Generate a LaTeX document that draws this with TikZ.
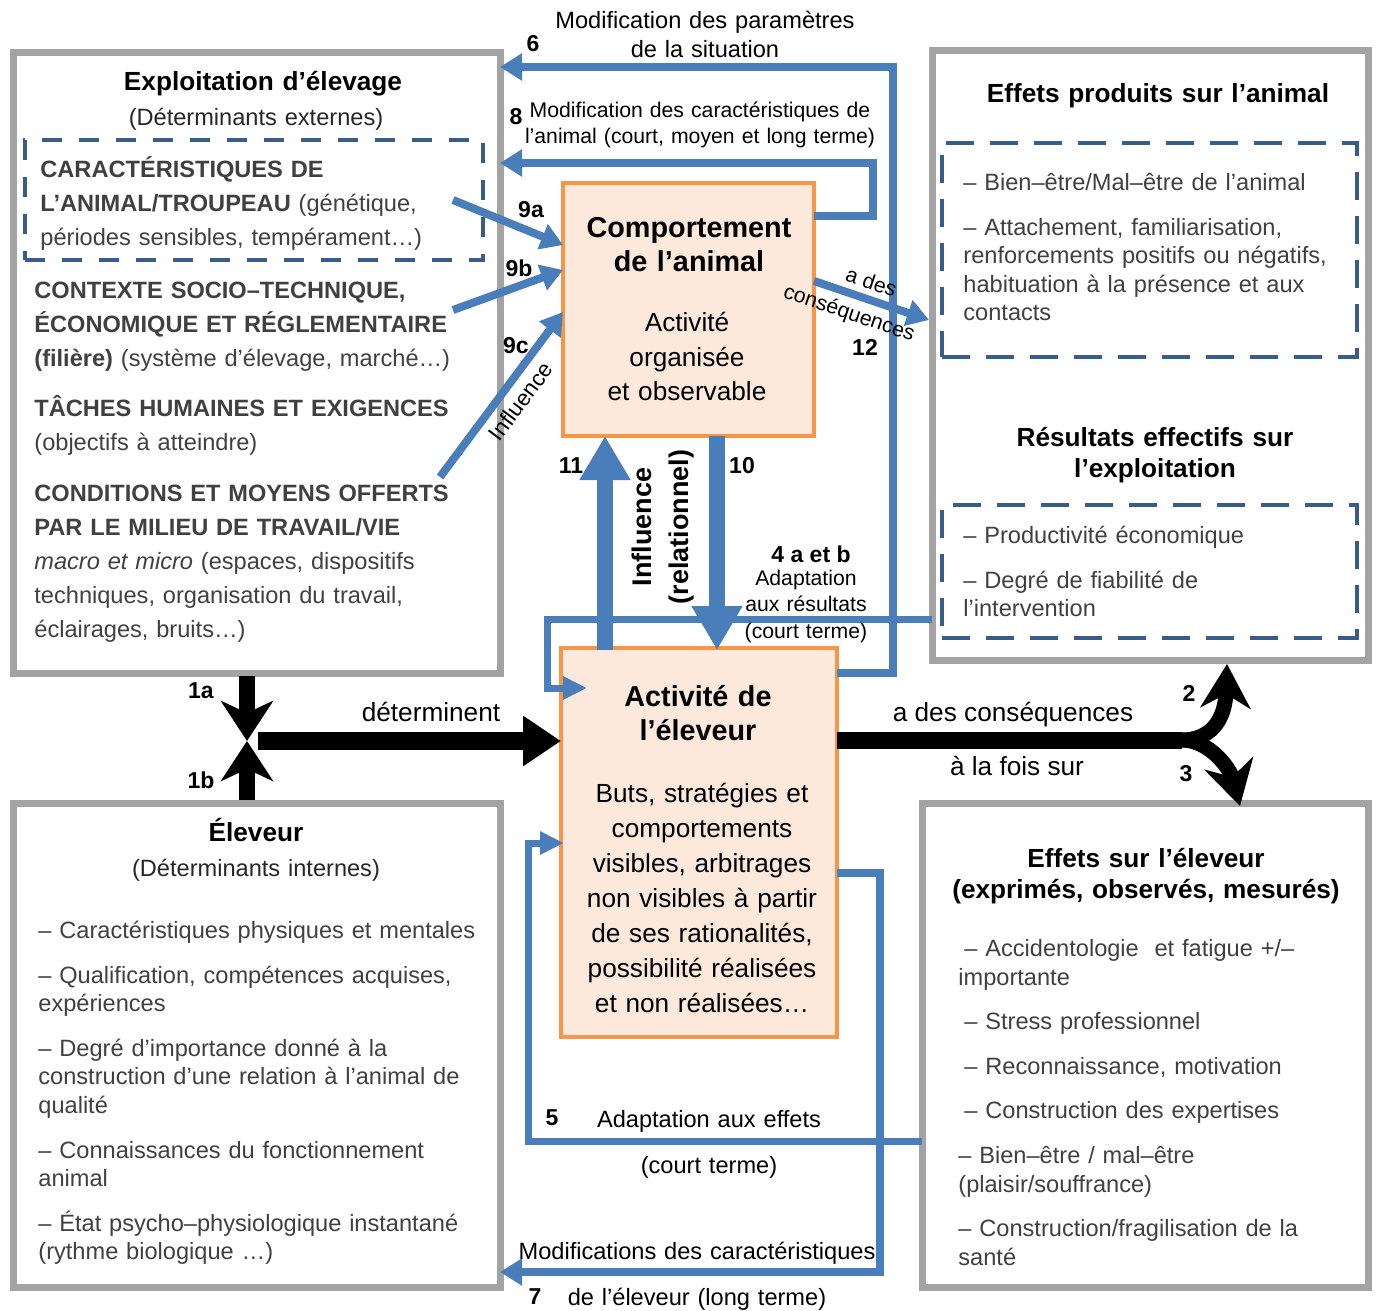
\documentclass[tikz,border=0pt]{standalone}
\usepackage{fontspec}
\setmainfont{Liberation Sans}
\usetikzlibrary{arrows.meta,positioning,calc}
\definecolor{framegray}{RGB}{163,163,163}
\definecolor{dashblue}{RGB}{56,93,138}
\definecolor{linkblue}{RGB}{74,126,187}
\definecolor{boxorange}{RGB}{247,150,70}
\definecolor{boxfill}{RGB}{253,233,219}
\definecolor{textgray}{RGB}{64,64,64}

\begin{document}
\begin{tikzpicture}[x=0.5pt,y=-0.5pt,
    greybox/.style={draw=framegray,line width=3.5pt,anchor=north west,inner sep=0,outer sep=0},
    dashbox/.style={draw=dashblue,line width=2pt,dash pattern=on 10pt off 8.5pt,anchor=north west,inner sep=0,outer sep=0},
    longdash/.style={dashbox,dash pattern=on 14pt off 8pt},
    orbox/.style={draw=boxorange,fill=boxfill,line width=2pt,anchor=north west,inner sep=0,outer sep=0},
    bluelink/.style={draw=linkblue,line width=4pt,-{Triangle[length=11pt,width=13pt]}},
    shortlink/.style={draw=linkblue,line width=3.5pt,-{Triangle[length=12pt,width=11pt]}},
    fatlink/.style={draw=linkblue,line width=8pt,-{Triangle[length=22pt,width=24pt]}},
    blkarrow/.style={draw=black,line width=8pt,-{Stealth[length=22pt,width=25pt,inset=7pt]}},
    body/.style={anchor=base west,inner sep=0,text width=240pt,align=left,text=textgray,font=\fontsize{11.8}{14.3}\selectfont},
    bodyA/.style={body,font=\fontsize{11.8}{17}\selectfont},
    ttl/.style={anchor=base,inner sep=0,text width=230pt,align=center,font=\fontsize{13.1}{15.5}\selectfont\bfseries},
    subttl/.style={anchor=base,inner sep=0,text width=230pt,align=center,text=black!85,font=\fontsize{11.8}{14.3}\selectfont},
    midttl/.style={anchor=base,inner sep=0,text width=150pt,align=center,font=\fontsize{14.4}{17.3}\selectfont\bfseries},
    midtxt/.style={anchor=base,inner sep=0,text width=150pt,align=center,font=\fontsize{13.1}{17.5}\selectfont},
    lbl/.style={anchor=base,inner sep=0,text width=230pt,align=center,font=\fontsize{11.8}{14.5}\selectfont},
    lblsm/.style={anchor=base,inner sep=0,text width=200pt,align=center,font=\fontsize{10.6}{13.2}\selectfont},
    onlink/.style={inner sep=0,font=\fontsize{10.6}{13.2}\selectfont},
    lblbig/.style={anchor=base,inner sep=0,font=\fontsize{13.1}{15}\selectfont},
    numlbl/.style={inner sep=0,font=\fontsize{11.5}{14}\selectfont\bfseries}]
\useasboundingbox (0,0) rectangle (1378,1311);

% boxes
\node[greybox,minimum width=243.5pt,minimum height=310pt] (expl) at (13,53) {};
\node[greybox,minimum width=243.5pt,minimum height=242pt] (elev) at (13,803) {};
\node[greybox,minimum width=218pt,minimum height=304.5pt] (eff) at (932,51) {};
\node[greybox,minimum width=223pt,minimum height=242pt] (effel) at (922,803) {};
\node[dashbox,minimum width=229pt,minimum height=60pt] (carac) at (25,140) {};
\node[longdash,minimum width=207.5pt,minimum height=107pt] (bienetre) at (942,143) {};
\node[longdash,minimum width=207.5pt,minimum height=66.5pt] (prod) at (942,505) {};
\node[orbox,minimum width=125.5pt,minimum height=126.5pt] (comp) at (563,183) {};
\node[orbox,minimum width=138pt,minimum height=194.5pt] (act) at (561,648) {};

% black arrows
\coordinate (j) at (247,741);
\draw[blkarrow,-{Stealth[length=20pt,width=26pt,inset=6pt]}] ($(expl.south west)+(234,3)$) -- (j);
\draw[blkarrow,-{Stealth[length=20pt,width=26pt,inset=6pt]}] ($(elev.north west)+(234,-3)$) -- (j);
\draw[blkarrow,line width=9pt,-{Triangle[length=19pt,width=24pt]}] ($(j)+(11,0)$) -- ($(act.north west)+(0,93)$);
\coordinate (fork) at (1182,740);
\draw[black,line width=8.5pt] ($(act.north west)+(276,92)$) -- (fork);
\draw[blkarrow,line width=7.5pt] (fork) .. controls (1209,740) and (1225,722) .. ($(eff.south west)+(295,4)$);
\draw[blkarrow,line width=7.5pt] (fork) .. controls (1209,740) and (1230,768) .. ($(effel.north west)+(318,3)$);

% blue links
\coordinate (r6) at (893,67);
\draw[bluelink] ($(act.north east)+(0,25)$) -| (r6) -- (expl.east |- r6);
\coordinate (r8) at (873,163);
\draw[bluelink] ($(comp.north east)+(0,33)$) -| (r8) -- (expl.east |- r8);
\coordinate (s9a) at (453,200);
\coordinate (s9b) at (453,310);
\coordinate (s9c) at (440,477);
\draw[bluelink] (s9a) -- ($(comp.north west)+(0,62)$);
\draw[bluelink] (s9b) -- ($(comp.north west)+(0,87)$);
\draw[bluelink] (s9c) -- node[onlink,font=\fontsize{11.2}{13}\selectfont,pos=0.53,sloped,below=3.5pt] {Influence} ($(comp.north west)+(0,129)$);
\draw[bluelink] ($(comp.north east)+(0,98)$) -- node[onlink,pos=0.45,sloped,above=3pt] {a des} node[onlink,pos=0.36,sloped,below=3pt] {conséquences} ($(eff.north west)+(-3,269)$);
\draw[fatlink] ($(act.north west)+(44,2)$) -- ($(comp.south west)+(42,0)$);
\draw[fatlink] ($(comp.south west)+(154,0)$) -- ($(act.north west)+(156,2)$);
\draw[shortlink] ($(eff.south west)+(0,-41)$) -| ($(act.north west)+(-14,40)$) -- ($(act.north west)+(26,40)$);
\draw[shortlink] ($(effel.north west)+(0,338)$) -| ($(act.north west)+(-33,195)$) -- ($(act.north west)+(3,195)$);
\coordinate (r7) at (880,1272);
\draw[bluelink] ($(act.north east)+(0,225)$) -| (r7) -- (elev.east |- r7);

% texts of the boxes
\node[ttl] (explT) at (263,91) {Exploitation d’élevage};
\node[subttl] (explS) at (256,126) {(Déterminants externes)};
\node[bodyA] (caracT) at (40,177.5) {\textbf{CARACTÉRISTIQUES DE}\\\textbf{L’ANIMAL/TROUPEAU} (génétique,\\périodes sensibles, tempérament…)};
\node[bodyA] (explB) at (34,298.5) {\textbf{CONTEXTE SOCIO–TECHNIQUE,}\\\textbf{ÉCONOMIQUE ET RÉGLEMENTAIRE}\\\textbf{(filière)} (système d’élevage, marché…)\\[8pt]\textbf{TÂCHES HUMAINES ET EXIGENCES}\\(objectifs à atteindre)\\[8.5pt]\textbf{CONDITIONS ET MOYENS OFFERTS}\\\textbf{PAR LE MILIEU DE TRAVAIL/VIE}\\\textit{macro et micro} (espaces, dispositifs\\techniques, organisation du travail,\\éclairages, bruits…)};

\node[ttl] (elevT) at (256,841) {Éleveur};
\node[subttl] (elevS) at (256,876) {(Déterminants internes)};
\node[body] (elevB) at (38,938.5) {– Caractéristiques physiques et mentales\\[8pt]– Qualification, compétences acquises,\\expériences\\[8pt]– Degré d’importance donné à la\\construction d’une relation à l’animal de\\qualité\\[8pt]– Connaissances du fonctionnement\\animal\\[8pt]– État psycho–physiologique instantané\\(rythme biologique …)};

\node[ttl] (effT) at (1158,103) {Effets produits sur l’animal};
\node[body] (effB) at (963,190.5) {– Bien–être/Mal–être de l’animal\\[8pt]– Attachement, familiarisation,\\renforcements positifs ou négatifs,\\habituation à la présence et aux\\contacts};
\node[ttl] (resT) at (1155,446) {Résultats effectifs sur\\l’exploitation};
\node[body] (resB) at (963,543.5) {– Productivité économique\\[8pt]– Degré de fiabilité de\\l’intervention};

\node[ttl] (effelT) at (1146,867) {Effets sur l’éleveur\\(exprimés, observés, mesurés)};
\node[body] (effelB) at (958,956.5) {\hspace*{3pt}– Accidentologie\ \ et fatigue +/–\\importante\\[8pt]\hspace*{3pt}– Stress professionnel\\[8pt]\hspace*{3pt}– Reconnaissance, motivation\\[8pt]\hspace*{3pt}– Construction des expertises\\[8pt]– Bien–être / mal–être\\(plaisir/souffrance)\\[8pt]– Construction/fragilisation de la\\santé};

\node[midttl] (compT) at (689,237) {Comportement\\de l’animal};
\node[midtxt] (compB) at (687,331) {Activité\\organisée\\et observable};
\node[midttl] (actT) at (698,706) {Activité de\\l’éleveur};
\node[midtxt] (actB) at (702,802) {Buts, stratégies et\\comportements\\visibles, arbitrages\\non visibles à partir\\de ses rationalités,\\possibilité réalisées\\et non réalisées…};

% labels of the links
\node[lbl] (l6) at (705,28.5) {Modification des paramètres\\de la situation};
\node[numlbl] (n6) at (533,44) {6};
\node[lblsm] (l8) at (700,117.5) {Modification des caractéristiques de\\l’animal (court, moyen et long terme)};
\node[numlbl] (n8) at (516,117) {8};
\node[numlbl] (n9a) at (531,210) {9a};
\node[numlbl] (n9b) at (519,268) {9b};
\node[numlbl] (n9c) at (516,346) {9c};
\node[numlbl] (n12) at (865,347) {12};
\node[numlbl] (n11) at (571,466) {11};
\node[numlbl] (n10) at (742,466) {10};
\node[rotate=90,inner sep=0,align=center,font=\fontsize{13.5}{18.5}\selectfont\bfseries] (infl) at (663,527) {Influence\\(relationnel)};
\node[numlbl] (n4) at (811,554) {4 a et b};
\node[lblsm] (l4) at (806,585.5) {Adaptation\\aux résultats\\(court terme)};
\node[lblbig] (ldet) at (431,721) {déterminent};
\node[lblbig] (lcons) at (1013,721) {a des conséquences};
\node[lblbig] (lfois) at (1017,775) {à la fois sur};
\node[numlbl] (n1a) at (201,691) {1a};
\node[numlbl] (n1b) at (201,780) {1b};
\node[numlbl] (n2) at (1189,693) {2};
\node[numlbl] (n3) at (1186,774) {3};
\node[numlbl] (n5) at (552,1118) {5};
\node[lbl] (l5) at (709,1127) {Adaptation aux effets};
\node[lbl] (l5b) at (709,1173) {(court terme)};
\node[lbl] (l7) at (697,1259) {Modifications des caractéristiques};
\node[numlbl] (n7) at (535,1297) {7};
\node[lbl] (l7b) at (697,1305) {de l’éleveur (long terme)};
\end{tikzpicture}
\end{document}
